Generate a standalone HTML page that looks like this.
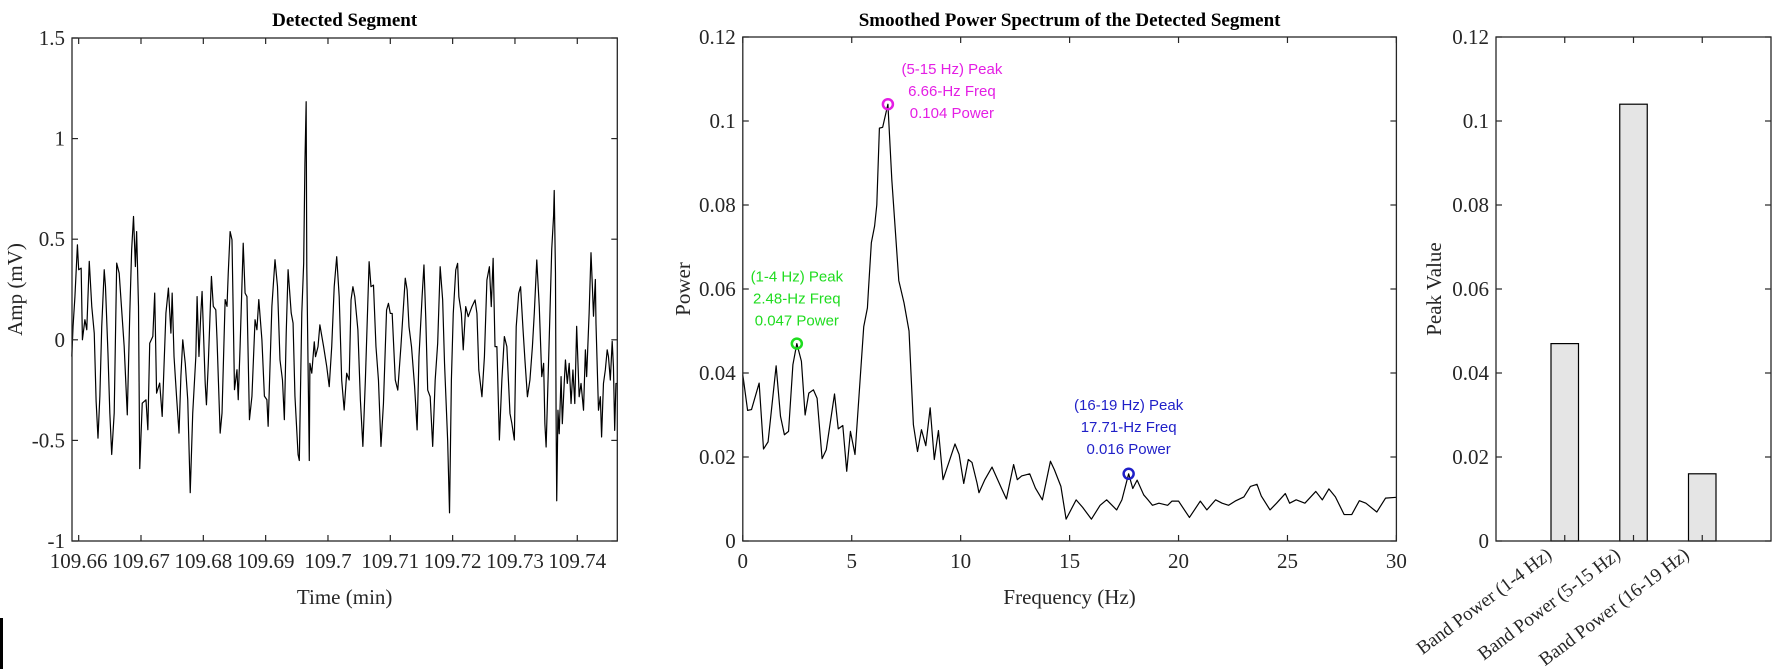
<!DOCTYPE html>
<html><head><meta charset="utf-8"><style>
html,body{margin:0;padding:0;background:#fff;}
svg{display:block;}
text{font-family:"Liberation Serif",serif;}
.ann{font-family:"Liberation Sans",sans-serif;font-size:15px;}
</style></head><body>
<svg id="fig" width="1778" height="669" viewBox="0 0 1778 669" xmlns="http://www.w3.org/2000/svg">
<rect x="0" y="618" width="3" height="51" fill="#000"/>
<g id="p1"></g>
<g id="p2"></g>
<g id="p3"></g>
</svg>
<script>
// ---- Panel 1 data: time offset after 109.66 min (units of 1e-4 min) and amplitude (mV)
const timeOffset = [
-11,-9,-6,-2,0,4,6,10,13,17, 21,25,28,31,34,37,41,43,47,50,
53,57,61,65,69,73,78,82,85,88, 91,93,96,98,102,108,111,114,119,122,
125,130,134,140,144,148,150,153,157,161, 164,167,171,175,179,183,188,190,193,196,
198,203,205,208,213,216,220,222,227,230, 235,238,240,243,246,250,254,256,259,264,
267,270,274,278,283,286,289,294,298,302, 304,310,315,319,323,327,330,333,336,341,
344,347,352,354,358,361,363,365,366,370,371,
374,378,380,384,387,393,398,402,406,410, 414,418,422,426,430,434,437,440,443,448,
452,456,460,466,469,473,477,481,485,489, 494,497,500,503,508,512,517,524,527,530,
534,539,543,546,551,554,557,560,564,568, 572,576,580,584,587,592,595,598,601,605,
608,610,614,617,621,625,631,636,639,642, 647,651,655,659,662,665,668,671,675,679,
683,687,692,695,699,702,706,709,713,716, 720,724,728,731,735,739,
743,746,748,750,752,756,759,762,763,765, 766,767,769,771,774,776,779,781,784,787,
790,793,796,799,803,806,810,813,815,819, 821,822,824,826,829,830,834,837,839,842,
845,848,850,853,856,858,860,862,864];
const ampValues = [
-0.083,0.066,0.215,0.472,0.348,0.356,0,0.1,0.05,0.39, 0.166,0.033,-0.306,-0.489,-0.28,0.066,0.348,0.265,-0.066,-0.364,
-0.57,-0.364,0.381,0.331,0.149,-0.033,-0.373,0.133,0.447,0.613, 0.364,0.538,0.166,-0.64,-0.315,-0.298,-0.447,-0.017,0.017,0.232,
-0.265,-0.215,-0.381,0.133,0.257,0.033,0.232,-0.083,-0.28,-0.464, -0.182,0,-0.116,-0.298,-0.76,-0.364,-0.083,0.215,-0.083,0.133,
0.24,-0.215,-0.323,-0.116,0.315,0.166,0.149,0,-0.464,-0.364, 0.2,0.166,0.331,0.538,0.497,-0.248,-0.149,-0.298,-0.033,0.48,
0.232,0.215,-0.397,-0.28,0.1,0.05,0.2,0,-0.28,-0.298, -0.43,0.166,0.398,0.265,-0.1,-0.2,-0.397,0.033,0.348,0.133,
0.083,-0.28,-0.57,-0.6,0.133,0.38,0.877,1.183,0.363,-0.6,-0.117,
-0.166,-0.01,-0.084,-0.034,0.074,-0.034,-0.133,-0.233,-0.034,0.264, 0.413,0.214,-0.2,-0.349,-0.166,-0.2,0.198,0.264,0.214,0.049,
-0.299,-0.53,-0.2,0.388,0.264,0.272,-0.034,-0.2,-0.53,-0.316, 0.148,0.181,0.131,0.131,-0.2,-0.25,-0.034,0.306,0.248,0.065,
-0.034,-0.233,-0.448,-0.084,0.214,0.372,0.098,-0.25,-0.283,-0.53, -0.2,-0.018,0.363,0.198,-0.117,-0.5,-0.86,-0.2,0.131,0.347,
0.38,0.214,0.131,-0.05,0.165,0.115,0.165,0.198,0.131,-0.15, -0.283,-0.084,0.297,0.363,0.165,0.405,-0.034,-0.034,-0.498,-0.2,
0.016,-0.034,-0.366,-0.415,-0.498,0.065,0.231,0.264,0.049,-0.1, -0.283,-0.2,-0.034,0.131,0.397,0.165,
-0.183,-0.117,-0.417,-0.533,-0.317,0.117,0.45,0.617,0.742,0.333, -0.383,-0.8,-0.35,-0.467,-0.183,-0.417,-0.217,-0.1,-0.217,-0.117,
-0.317,-0.15,-0.317,0.067,-0.283,-0.217,-0.35,-0.05,-0.183,0.133, 0.333,0.433,0.283,0.117,0.3,0.083,-0.35,-0.283,-0.483,-0.217,
-0.15,-0.05,-0.083,-0.2,-0.008,-0.133,-0.45,-0.217,-0.217];
const timeTicks = [109.66,109.67,109.68,109.69,109.70,109.71,109.72,109.73,109.74];
const timeTickLabels = ["109.66","109.67","109.68","109.69","109.7","109.71","109.72","109.73","109.74"];
const ampTicks = [-1,-0.5,0,0.5,1,1.5];
const ampTickLabels = ["-1","-0.5","0","0.5","1","1.5"];

// ---- Panel 2 data
const freqHz = [0,0.22,0.4,0.75,0.95,1.16,1.53,1.73,1.91,2.1,2.3,2.48,2.69,2.86,3.03,3.24,3.41,3.64,3.83,4.21,4.38,4.59,4.77,4.94,5.15,5.55,5.72,5.77,5.9,6.05,6.15,6.27,6.42,6.66,6.84,7.16,7.4,7.63,7.83,8.02,8.2,8.4,8.6,8.79,8.98,9.19,9.45,9.74,9.93,10.14,10.35,10.52,10.75,10.84,11.1,11.44,11.87,12.1,12.43,12.6,12.8,13.17,13.43,13.75,14.12,14.3,14.6,14.84,15.3,15.6,16.0,16.4,16.7,17.16,17.4,17.71,17.9,18.1,18.4,18.6,18.8,19.1,19.5,19.7,20.0,20.5,21.0,21.3,21.7,22.0,22.3,22.6,23.0,23.3,23.6,23.8,24.2,24.5,24.9,25.1,25.4,25.8,26.3,26.6,26.9,27.2,27.6,27.95,28.3,28.6,29.1,29.5,30];
const powerValues = [0.0396,0.0311,0.0313,0.0376,0.0219,0.0236,0.0417,0.0297,0.0253,0.0261,0.042,0.047,0.0428,0.030,0.0352,0.036,0.034,0.0196,0.0217,0.035,0.0267,0.0275,0.0166,0.0261,0.0206,0.051,0.0555,0.060,0.071,0.075,0.08,0.0983,0.0985,0.104,0.086,0.062,0.0567,0.050,0.0277,0.0213,0.0265,0.0227,0.0317,0.0194,0.0263,0.0146,0.0186,0.0231,0.0206,0.0137,0.0194,0.0187,0.0138,0.0115,0.0145,0.0176,0.0126,0.0100,0.0182,0.0146,0.0155,0.016,0.0126,0.0098,0.019,0.017,0.013,0.0052,0.0098,0.008,0.0052,0.0085,0.0098,0.0074,0.0098,0.016,0.0125,0.0145,0.011,0.0098,0.0085,0.009,0.0085,0.0095,0.0095,0.0056,0.0095,0.0074,0.0098,0.009,0.0085,0.0095,0.0105,0.013,0.0135,0.0107,0.0074,0.009,0.0113,0.009,0.0098,0.009,0.0118,0.0098,0.0124,0.0105,0.0063,0.0063,0.0096,0.009,0.0069,0.0102,0.0104];
const peakBands = ["(1-4 Hz) Peak","(5-15 Hz) Peak","(16-19 Hz) Peak"];
const peakFreqs = [2.48,6.66,17.71];
const peakPowers = [0.047,0.104,0.016];
const peakColors = ["#1fdc1f","#e41ee4","#1f1fc8"];
const freqTicks = [0,5,10,15,20,25,30];
const powerTicks = [0,0.02,0.04,0.06,0.08,0.1,0.12];
const powerTickLabels = ["0","0.02","0.04","0.06","0.08","0.1","0.12"];

// ---- Panel 3 data
const barCategories = ["Band Power (1-4 Hz)","Band Power (5-15 Hz)","Band Power (16-19 Hz)"];
const barValues = [0.047,0.104,0.016];

const NS="http://www.w3.org/2000/svg";
function mk(parent,tag,attrs,txt){const e=document.createElementNS(NS,tag);for(const k in attrs)e.setAttribute(k,attrs[k]);if(txt!==undefined)e.textContent=txt;parent.appendChild(e);return e;}

function frame(g,L,T,R,B){
  const f=mk(g,'rect',{x:L,y:T,width:R-L,height:B-T,fill:'none',stroke:'#262626','stroke-width':1.3});
  
  
}
function xTick(g,x,T,B,label,name){
  mk(g,'line',{x1:x,x2:x,y1:B,y2:B-6,stroke:'#262626','stroke-width':1.2});
  mk(g,'line',{x1:x,x2:x,y1:T,y2:T+6,stroke:'#262626','stroke-width':1.2});
  if(label!==null){const t=mk(g,'text',{x:x,y:B+27,'font-size':21,'text-anchor':'middle',fill:'#262626'},label);
  
  }
}
function yTick(g,y,L,R,label,name){
  mk(g,'line',{x1:L,x2:L+6,y1:y,y2:y,stroke:'#262626','stroke-width':1.2});
  mk(g,'line',{x1:R,x2:R-6,y1:y,y2:y,stroke:'#262626','stroke-width':1.2});
  const t=mk(g,'text',{x:L-7,y:y+7,'font-size':21,'text-anchor':'end',fill:'#262626'},label);
  
  
}
function title(g,x,y,s,name){const t=mk(g,'text',{x:x,y:y,'font-size':19,'font-weight':'bold','text-anchor':'middle',fill:'#000'},s);
  
  }
function axTitle(g,x,y,s,rot,name){const a={x:x,y:y,'font-size':21,'text-anchor':'middle',fill:'#262626'};if(rot)a.transform='rotate(-90 '+x+' '+y+')';
  const t=mk(g,'text',a,s);
  
  }

// Panel 1
(function(){
  const g=document.getElementById('p1');
  const L=72,R=617.3,T=38,B=541;
  const t0=109.66,tMin=109.65893,tMax=109.74642;
  const sx=t=>L+(t-tMin)/(tMax-tMin)*(R-L);
  const sy=v=>B-(v-(-1))/(2.5)*(B-T);
  let d='';
  for(let i=0;i<ampValues.length;i++){const t=t0+timeOffset[i]*1e-4;d+=(i?'L':'M')+sx(t).toFixed(2)+' '+sy(ampValues[i]).toFixed(2);}
  const p=mk(g,'path',{d:d,fill:'none',stroke:'#000','stroke-width':1.2,'stroke-linejoin':'round'});
  
  
  frame(g,L,T,R,B);
  timeTicks.forEach((t,i)=>xTick(g,sx(t),T,B,timeTickLabels[i],'x-tick-label'));
  ampTicks.forEach((v,i)=>yTick(g,sy(v),L,R,ampTickLabels[i],'y-tick-label'));
  title(g,(L+R)/2,26,'Detected Segment','chart-title');
  axTitle(g,(L+R)/2,604,'Time (min)',false,'x-axis-title');
  axTitle(g,22,(T+B)/2,'Amp (mV)',true,'y-axis-title');
})();

// Panel 2
(function(){
  const g=document.getElementById('p2');
  const L=742.8,R=1396.4,T=37,B=541;
  const sx=f=>L+f/30*(R-L);
  const sy=p=>B-p/0.12*(B-T);
  let d='';
  freqHz.forEach((f,i)=>{d+=(i?'L':'M')+sx(f).toFixed(2)+' '+sy(powerValues[i]).toFixed(2);});
  const p=mk(g,'path',{d:d,fill:'none',stroke:'#000','stroke-width':1.2,'stroke-linejoin':'round'});
  
  
  frame(g,L,T,R,B);
  freqTicks.forEach(f=>xTick(g,sx(f),T,B,String(f),'x-tick-label'));
  powerTicks.forEach((v,i)=>yTick(g,sy(v),L,R,powerTickLabels[i],'y-tick-label'));
  const dyFirst=[-62,-30,-64];
  peakFreqs.forEach((f,i)=>{
    const cx=sx(f),cy=sy(peakPowers[i]);
    const c=mk(g,'circle',{cx:cx,cy:cy,r:5,fill:'none',stroke:peakColors[i],'stroke-width':2.5});
    
    
    const lines=[peakBands[i],f.toFixed(2)+'-Hz Freq',String(peakPowers[i])+' Power'];
    lines.forEach((s,j)=>{
      const t=mk(g,'text',{x:i===1?cx+64:cx,y:cy+dyFirst[i]+j*22,'text-anchor':'middle',fill:peakColors[i],'class':'ann'},s);
      
      
    });
  });
  title(g,(L+R)/2,26,'Smoothed Power Spectrum of the Detected Segment','chart-title');
  axTitle(g,(L+R)/2,604,'Frequency (Hz)',false,'x-axis-title');
  axTitle(g,690,(T+B)/2,'Power',true,'y-axis-title');
})();

// Panel 3
(function(){
  const g=document.getElementById('p3');
  const L=1496,R=1771,T=37,B=541;
  const sx=k=>L+k/4*(R-L);
  const sy=p=>B-p/0.12*(B-T);
  const bw=0.4*(R-L)/4;
  barCategories.forEach((c,i)=>{
    const x=sx(i+1);
    const r=mk(g,'rect',{x:x-bw/2,y:sy(barValues[i]),width:bw,height:B-sy(barValues[i]),fill:'#e5e5e5',stroke:'#000','stroke-width':1.2});
    
    
  });
  frame(g,L,T,R,B);
  barCategories.forEach((c,i)=>{
    const x=sx(i+1);
    mk(g,'line',{x1:x,x2:x,y1:B,y2:B-6,stroke:'#262626','stroke-width':1.2});
    mk(g,'line',{x1:x,x2:x,y1:T,y2:T+6,stroke:'#262626','stroke-width':1.2});
    const ax=x-12, ay=B+16;
    const t=mk(g,'text',{x:ax,y:ay,'font-size':19,'text-anchor':'end',fill:'#262626',transform:'rotate(-37 '+ax+' '+ay+')'},c);
    
    
  });
  powerTicks.forEach((v,i)=>yTick(g,sy(v),L,R,powerTickLabels[i],'y-tick-label'));
  axTitle(g,1441,(T+B)/2,'Peak Value',true,'y-axis-title');
})();
</script>
</body></html>
